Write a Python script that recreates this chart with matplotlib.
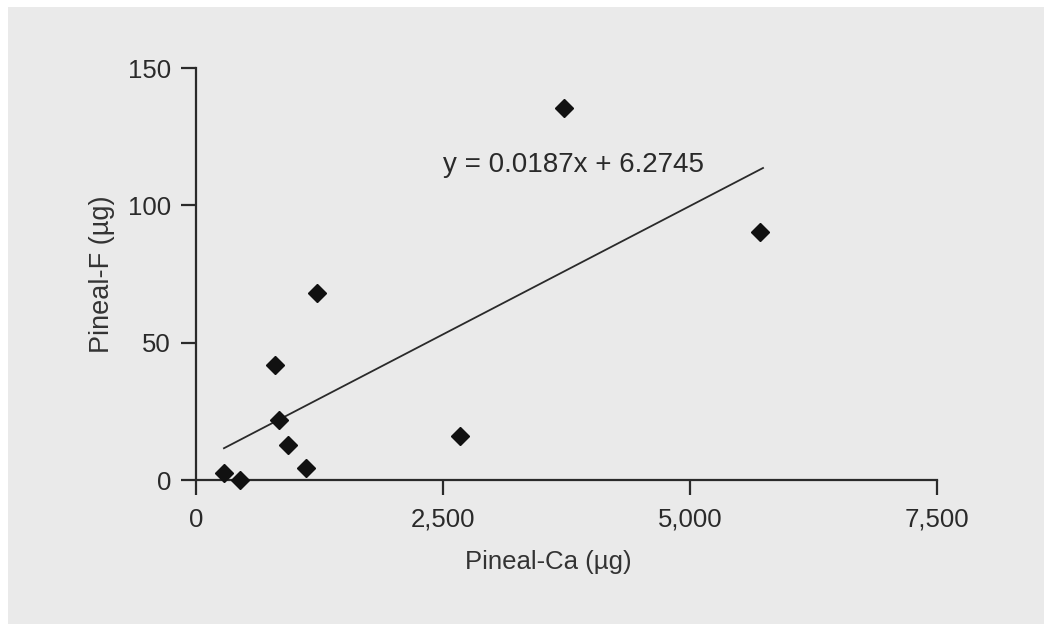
import numpy as np
import matplotlib.pyplot as plt
from matplotlib.patches import Rectangle

# Pineal calcium vs pineal fluoride
ca = np.array([283, 445, 800, 840, 931, 1113, 1225, 2672, 3725, 5709])
fl = np.array([2.5, 0.0, 42.0, 22.0, 12.7, 4.4, 68.0, 16.0, 135.4, 90.3])
slope = 0.0187
intercept = 6.2745

xticks = [0, 2500, 5000, 7500]
xticklabels = ['0', '2,500', '5,000', '7,500']
yticks = [0, 50, 100, 150]

plt.rcParams['font.family'] = ['Liberation Sans', 'DejaVu Sans']
ink = '#2a2a2a'
bg = '#eaeaea'

fig = plt.figure(figsize=(10.44, 6.24), dpi=100)
fig.patch.set_facecolor('white')
fig.patches.append(Rectangle((8/1044, 0), 1, 1 - 7/624, transform=fig.transFigure,
                             facecolor=bg, edgecolor='none', zorder=-10))

ax = fig.add_axes([196/1044, 1 - 480/624, 741/1044, 412/624])
ax.set_facecolor('none')

ax.plot(ca, fl, linestyle='none', marker='D', markersize=9.5,
        color='#111111', zorder=3, clip_on=False)

xx = np.array([ca.min(), ca.max() + 30])
ax.plot(xx, slope*xx + intercept, color=ink, lw=1.3)

ax.text(2500, 114.7, 'y = 0.0187x + 6.2745', ha='left', va='center',
        fontsize=20, color=ink)

ax.set_xlim(0, 7500)
ax.set_ylim(0, 150)
ax.set_xticks(xticks)
ax.set_xticklabels(xticklabels)
ax.set_yticks(yticks)

for s in ['top', 'right']:
    ax.spines[s].set_visible(False)
for s in ['left', 'bottom']:
    ax.spines[s].set_color(ink)
    ax.spines[s].set_linewidth(1.6)

ax.tick_params(direction='out', length=11, width=1.6, color=ink,
               labelsize=18.5, labelcolor=ink)
ax.tick_params(axis='x', pad=9)
ax.tick_params(axis='y', pad=7)

ax.set_xlabel('Pineal-Ca (µg)', fontsize=18.5, color='#333333')
ax.set_ylabel('Pineal-F (µg)', fontsize=19.5, color='#333333')
ax.xaxis.set_label_coords(0.475, -0.17)
ax.yaxis.set_label_coords(-0.109, 0.5)

fig.savefig('out.png', dpi=100)
